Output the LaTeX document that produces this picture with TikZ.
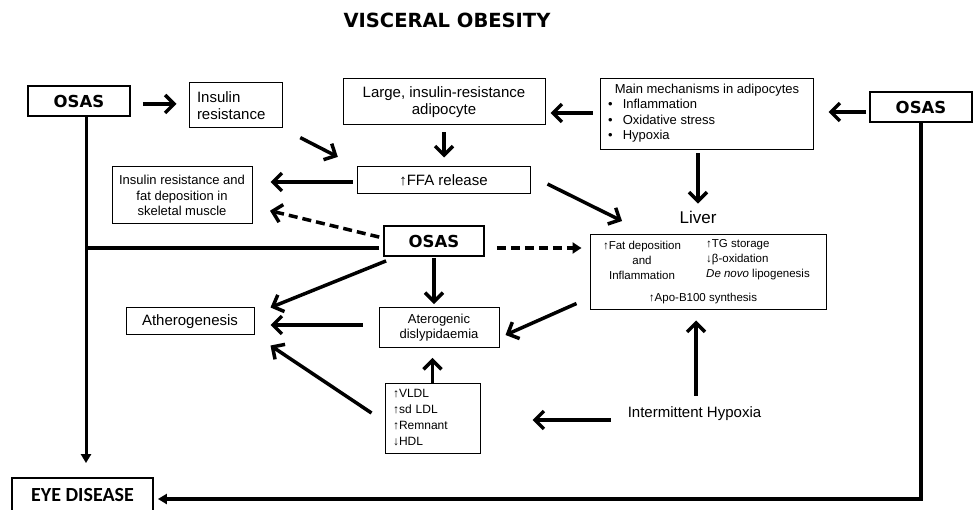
\documentclass[tikz,border=0pt]{standalone}
\usepackage{fontspec}
\setmainfont{Liberation Sans}
\newfontfamily\headfont{DejaVu Sans}
\newfontfamily\eyefont{Carlito}
\usepackage{tikz}
\usetikzlibrary{arrows.meta}

\begin{document}
\begin{tikzpicture}[x=1pt,y=-1pt]
	\tikzstyle{every node}=[inner sep=0pt]
	\tikzstyle{plainbox}=[draw,line width=1pt,inner sep=6pt]
	\tikzstyle{osasbox}=[draw,line width=1.8pt,minimum width=102pt,minimum height=30pt,font=\headfont\bfseries\fontsize{16.5}{18}\selectfont]
	\tikzstyle{arr}=[line width=3.5pt,-{Straight Barb[length=9pt,width=18pt]}]
	\tikzstyle{darr}=[arr,dash pattern=on 9pt off 5pt]
	\tikzstyle{tarr}=[line width=3pt,-{Triangle[length=9pt,width=10pt]}]
	\tikzstyle{txtbig}=[font=\fontsize{15}{17}\selectfont]
	\tikzstyle{txtmid}=[font=\fontsize{13}{15.5}\selectfont]
	\tikzstyle{txtsmall}=[font=\fontsize{11.5}{15}\selectfont]
	\useasboundingbox (0,0) rectangle (974,510);
	\node[font=\headfont\bfseries\fontsize{19.5}{22}\selectfont] (title) at (447,20) {VISCERAL OBESITY};
	\node[osasbox] (osasL) at (79,101) {OSAS};
	\node[plainbox,txtbig,text width=77pt,inner xsep=8pt,minimum height=45pt,align=left] (insres) at (235.5,105.5) {Insulin\\resistance};
	\node[plainbox,txtbig,minimum width=202pt,minimum height=46pt,align=center] (adipo) at (444,102) {Large, insulin-resistance\\adipocyte};
	\node[plainbox,minimum width=213pt,minimum height=71pt] (mech) at (706.5,114.5) {};
	\node[txtmid] (mechttl) at (707,90) {Main mechanisms in adipocytes};
	\node[txtmid,align=left,anchor=west] (mechlst) at (608,121) {•\hspace{10pt}Inflammation\\•\hspace{10pt}Oxidative stress\\•\hspace{10pt}Hypoxia};
	\node[osasbox] (osasR) at (921,107) {OSAS};
	\node[plainbox,txtbig,minimum width=173pt,minimum height=27pt] (ffa) at (443.5,180.5) {↑FFA release};
	\node[plainbox,txtmid,minimum width=140pt,minimum height=57pt,align=center] (skel) at (182,195.5) {Insulin resistance and\\fat deposition in\\skeletal muscle};
	\node[osasbox,minimum width=100pt] (osasC) at (434,241) {OSAS};
	\node[font=\fontsize{17}{20}\selectfont] (liverlbl) at (698,217) {Liver};
	\node[plainbox,minimum width=236pt,minimum height=75pt] (liver) at (708,272.5) {};
	\node[txtsmall,align=center] (fat) at (642,260) {↑Fat deposition\\and\\Inflammation};
	\node[txtsmall,align=left,anchor=west] (tg) at (706,260) {↑TG storage\\↓β-oxidation\\\textit{De novo} lipogenesis};
	\node[txtsmall] (apo) at (703,299) {↑Apo-B100 synthesis};
	\node[plainbox,txtbig,minimum width=128pt,minimum height=27pt] (ather) at (190,321.5) {Atherogenesis};
	\node[plainbox,txtmid,minimum width=120pt,minimum height=39pt,align=center] (atero) at (439,327.5) {Aterogenic\\dislypidaemia};
	\node[plainbox,font=\fontsize{12}{16}\selectfont,text width=79pt,inner xsep=8pt,minimum height=70pt,align=left] (vldl) at (432.5,418) {↑VLDL\\↑sd LDL\\↑Remnant\\↓HDL};
	\node[txtbig] (hyp) at (694.5,414) {Intermittent Hypoxia};
	\node[draw,line width=1.8pt,minimum width=141pt,minimum height=34pt,font=\eyefont\bfseries\fontsize{20}{22}\selectfont] (eye) at (82.5,495) {EYE DISEASE};
	\coordinate (trunk) at ([xshift=7pt]osasL.south);
	\draw[arr,shorten <=12pt,shorten >=12pt] ([yshift=-3pt]osasL.east) -- ([yshift=-3pt]osasL.east -| insres.west);
	\draw[arr,shorten <=20pt,shorten >=21pt] (insres.south east) -- (ffa.north west);
	\draw[arr,shorten <=7pt,shorten >=9pt] (adipo.south) -- (adipo.south |- ffa.north);
	\draw[arr,shorten <=7pt,shorten >=5pt] ([yshift=1.5pt]mech.west) -- ([yshift=1.5pt]mech.west -| adipo.east);
	\draw[arr,shorten <=3pt,shorten >=15pt] ([yshift=-5pt]osasR.west) -- ([yshift=-5pt]osasR.west -| mech.east);
	\draw[tarr,line width=3.5pt,shorten >=4pt] (osasR.south) |- ([yshift=-4pt]eye.east);
	\draw[tarr,shorten >=14pt] (trunk) -- (trunk |- eye.north);
	\draw[line width=3.5pt,shorten <=4pt] ([yshift=-7pt]osasC.west) -- ([yshift=-7pt]osasC.west -| trunk);
	\draw[darr,shorten <=4pt,shorten >=18pt] ([yshift=3pt]osasC.west) -- ([yshift=-11pt]skel.east);
	\draw[darr,-{Triangle[length=9pt,width=11pt]},shorten <=12pt,shorten >=8pt] ([yshift=-7pt]osasC.east) -- ([yshift=-7pt]osasC.east -| liver.west);
	\draw[arr,shorten <=4pt,shorten >=18pt] ([yshift=-1.5pt]ffa.west) -- ([yshift=-1.5pt]ffa.west -| skel.east);
	\draw[arr] ([shift={(17,3.5)}]ffa.east) -- ([shift={(-76,4)}]liverlbl.center);
	\draw[arr,shorten <=3pt,shorten >=7pt] ([xshift=-8.5pt]mech.south) -- ([xshift=-8.5pt]mech.south |- liverlbl.north);
	\draw[arr,shorten <=1pt,shorten >=3pt] (osasC.south) -- (osasC.south |- atero.north);
	\draw[arr] ([shift={(3,4)}]osasC.south west) -- ([shift={(16,0)}]ather.north east);
	\draw[arr,shorten <=16pt,shorten >=16pt] ([yshift=2.5pt]atero.west) -- ([yshift=2.5pt]atero.west -| ather.east);
	\draw[arr] ([shift={(-13,-7)}]liver.south west) -- ([shift={(6,7.5)}]atero.east);
	\draw[arr,shorten >=10pt] (vldl.north) -- (vldl.north |- atero.south);
	\draw[arr] ([shift={(-13,-5)}]vldl.west) -- ([shift={(16,10)}]ather.south east);
	\draw[arr,shorten <=17pt,shorten >=52pt] ([yshift=-6pt]hyp.west) -- ([yshift=-6pt]hyp.west -| vldl.east);
	\draw[arr,shorten <=11pt,shorten >=10pt] ([xshift=1.5pt]hyp.north) -- ([xshift=1.5pt]hyp.north |- liver.south);
\end{tikzpicture}
\end{document}
